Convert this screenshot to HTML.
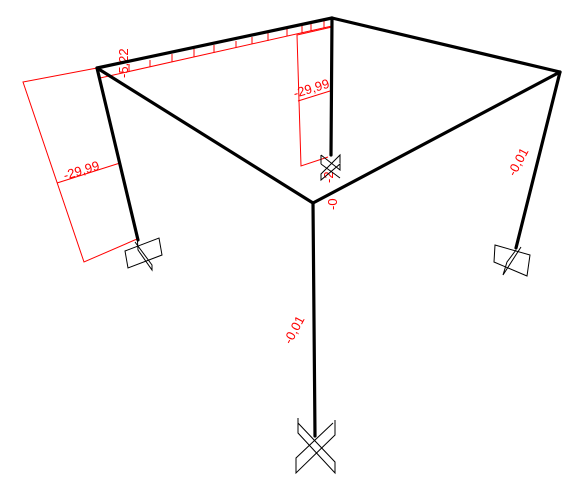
<!DOCTYPE html>
<html><head><meta charset="utf-8"><style>
html,body{margin:0;padding:0;background:#fff;}
svg{display:block;}
text{font-family:"Liberation Sans",sans-serif;font-size:13px;fill:#f00;}
</style></head><body>
<svg width="577" height="483" viewBox="0 0 577 483">
<script>
// data (moment/axial values shown)
const leftColValue = ["-29,99"];
const backColValue = ["-29,99"];
const beamValue = ["-5,22"];
const colAxial = ["-0,01","-0,01"];
</script>
<!-- red diagrams -->
<g stroke="#f00" stroke-width="1" fill="none">
  <polyline points="97,68 23,82 84,262 137,239"/>
  <line x1="57" y1="183" x2="120" y2="163"/>
  <line x1="100" y1="78" x2="332" y2="26"/>
  <g>
    <line x1="129" y1="72" x2="129" y2="65"/><line x1="150" y1="67" x2="150" y2="60"/>
    <line x1="172" y1="62" x2="172" y2="54"/><line x1="194" y1="57" x2="194" y2="49"/>
    <line x1="214" y1="53" x2="214" y2="45"/><line x1="236" y1="48" x2="236" y2="41"/>
    <line x1="252" y1="44" x2="252" y2="37"/><line x1="268" y1="41" x2="268" y2="33"/>
    <line x1="287" y1="36" x2="287" y2="29"/><line x1="302" y1="33" x2="302" y2="26"/>
    <line x1="311" y1="31" x2="311" y2="24"/><line x1="324" y1="28" x2="324" y2="20"/>
  </g>
  <polyline points="332,27 297,35 301,166 328,157"/>
  <line x1="298" y1="101" x2="330" y2="91"/>
</g>
<text transform="translate(65,180) rotate(-17)">-29,99</text>
<text transform="translate(295,98) rotate(-17)">-29,99</text>
<text transform="translate(128,78) rotate(-90)">-5,22</text>
<text transform="translate(333,183) rotate(-90)" font-size="12">-2</text>
<text transform="translate(337,210) rotate(-90)" font-size="12">-0</text>
<text transform="translate(291,345) rotate(-62)">-0,01</text>
<text transform="translate(515,177) rotate(-62)">-0,01</text>
<!-- members -->
<g stroke="#000" stroke-width="3.2" fill="none" stroke-linecap="round">
  <line x1="97" y1="68" x2="332" y2="18"/>
  <line x1="332" y1="18" x2="560" y2="72"/>
  <line x1="97" y1="68" x2="313" y2="203"/>
  <line x1="313" y1="203" x2="560" y2="72"/>
  <line x1="97" y1="68" x2="138" y2="240"/>
  <line x1="332" y1="18" x2="331" y2="155"/>
  <line x1="560" y1="72" x2="516" y2="248"/>
  <line x1="313" y1="203" x2="315" y2="436"/>
</g>
<!-- supports -->
<g stroke="#000" stroke-width="1" fill="none">
  <g>
    <polygon points="125,251 159,238 162,255 128,268"/>
    <polyline points="135,242 152,265 152,270 138,250 137,233"/>
  </g>
  <g>
    <polyline points="321,155 340,170 340,164 321,180 321,174 340,155 340,163"/>
    <line x1="321" y1="155" x2="321" y2="164"/><line x1="321" y1="164" x2="340" y2="178"/>
  </g>
  <g>
    <polygon points="495,245 530,255 527,276 494,262"/>
    <polyline points="521,247 503,275 507,262 516,250"/>
  </g>
  <g>
    <polyline points="298,418 298,433 335,473 335,462 298,423"/>
    <polyline points="335,420 335,435 296,473 296,458 333,423"/>
  </g>
</g>
</svg>
</body></html>
